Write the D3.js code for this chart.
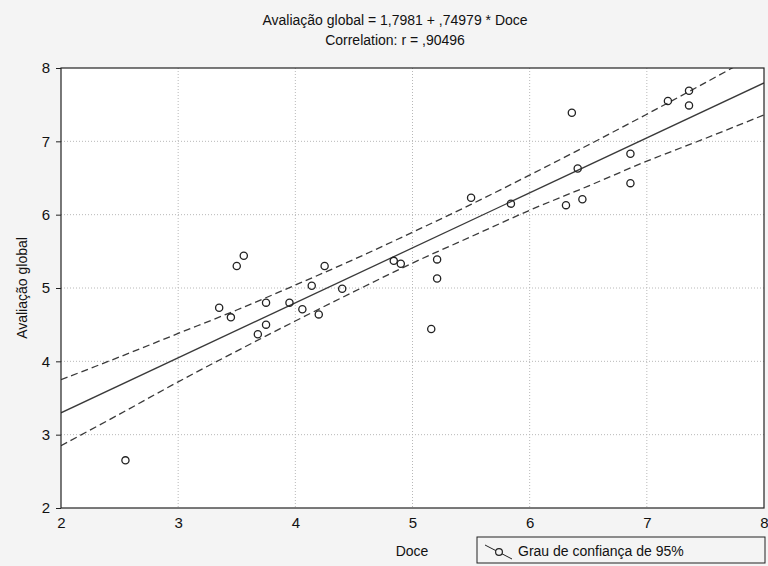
<!DOCTYPE html>
<html>
<head>
<meta charset="utf-8">
<script src="https://cdn.jsdelivr.net/npm/d3@7"></script>
<style>
  html, body { margin: 0; padding: 0; background: #f4f4f4; }
  svg { display: block; font-family: "Liberation Sans", Arial, sans-serif; }
</style>
</head>
<body>
<svg id="chart" width="768" height="566"></svg>
<script>
// Dados (Doce x Avaliação global)
const doce = [2.55, 3.35, 3.45, 3.50, 3.56, 3.75, 3.75, 3.68, 3.95, 4.14, 4.25, 4.06, 4.20, 4.40,
  4.84, 4.90, 5.21, 5.21, 5.16, 5.50, 5.84, 6.36, 6.41, 6.31, 6.45, 6.86, 6.86, 7.18, 7.36, 7.36];
const avaliacao = [2.65, 4.73, 4.60, 5.30, 5.44, 4.80, 4.50, 4.37, 4.80, 5.03, 5.30, 4.71, 4.64, 4.99,
  5.37, 5.33, 5.39, 5.13, 4.44, 6.23, 6.15, 7.39, 6.63, 6.13, 6.21, 6.83, 6.43, 7.55, 7.49, 7.69];

// Reta de regressão (do título)
const regIntercept = 1.7981;
const regSlope = 0.74979;

// Limites de confiança de 95%
const bandX     = [2, 2.5, 3, 3.5, 4, 4.5, 5, 5.5, 6, 6.5, 7, 7.5, 8];
const bandUpper = [3.75, 4.06, 4.38, 4.70, 5.04, 5.39, 5.76, 6.14, 6.54, 6.95, 7.37, 7.80, 8.24];
const bandLower = [2.85, 3.28, 3.72, 4.14, 4.55, 4.95, 5.34, 5.70, 6.06, 6.39, 6.73, 7.04, 7.36];

const xTicks = [2, 3, 4, 5, 6, 7, 8];
const yTicks = [2, 3, 4, 5, 6, 7, 8];

const titulo1 = "Avaliação global = 1,7981 + ,74979 * Doce";
const titulo2 = "Correlation: r = ,90496";
const legenda = "Grau de confiança de 95%";

const svg = d3.select("#chart");
const pLeft = 61, pRight = 764, pTop = 68, pBottom = 508;

const x = d3.scaleLinear().domain([2, 8]).range([pLeft, pRight]);
const y = d3.scaleLinear().domain([2, 8]).range([pBottom, pTop]);

// Área do gráfico
svg.append("rect")
  .attr("x", pLeft).attr("y", pTop)
  .attr("width", pRight - pLeft).attr("height", pBottom - pTop)
  .attr("fill", "#fff");

svg.append("defs").append("clipPath").attr("id", "clip")
  .append("rect")
  .attr("x", pLeft).attr("y", pTop)
  .attr("width", pRight - pLeft).attr("height", pBottom - pTop);

// Grade pontilhada
const grid = svg.append("g").attr("stroke", "#b8b8b8").attr("stroke-dasharray", "1,2");
grid.selectAll("line.v").data(xTicks.slice(1, -1)).enter().append("line")
  .attr("x1", d => x(d)).attr("x2", d => x(d))
  .attr("y1", pTop).attr("y2", pBottom);
grid.selectAll("line.h").data(yTicks.slice(1, -1)).enter().append("line")
  .attr("x1", pLeft).attr("x2", pRight)
  .attr("y1", d => y(d)).attr("y2", d => y(d));

const plot = svg.append("g").attr("clip-path", "url(#clip)");

// Reta de regressão
const regLine = d3.line().x(d => x(d)).y(d => y(regIntercept + regSlope * d));
plot.append("path")
  .attr("d", regLine([2, 8]))
  .attr("fill", "none").attr("stroke", "#3a3a3a").attr("stroke-width", 1.3);

// Bandas de confiança
const bandLine = d3.line().x(d => x(d[0])).y(d => y(d[1])).curve(d3.curveCatmullRom);
[bandUpper, bandLower].forEach(b => {
  plot.append("path")
    .attr("d", bandLine(bandX.map((v, i) => [v, b[i]])))
    .attr("fill", "none").attr("stroke", "#3a3a3a").attr("stroke-width", 1.3)
    .attr("stroke-dasharray", "7,4");
});

// Pontos
plot.selectAll("circle").data(doce).enter().append("circle")
  .attr("cx", d => x(d))
  .attr("cy", (d, i) => y(avaliacao[i]))
  .attr("r", 3.6)
  .attr("fill", "none").attr("stroke", "#222").attr("stroke-width", 1.3);

// Moldura
svg.append("rect")
  .attr("x", pLeft).attr("y", pTop)
  .attr("width", pRight - pLeft).attr("height", pBottom - pTop)
  .attr("fill", "none").attr("stroke", "#222").attr("stroke-width", 1.2);

// Eixos
const xAxis = svg.append("g").attr("transform", `translate(0,${pBottom})`)
  .call(d3.axisBottom(x).tickValues(xTicks).tickSize(0).tickPadding(9).tickFormat(d3.format("d")));
const yAxis = svg.append("g").attr("transform", `translate(${pLeft},0)`)
  .call(d3.axisLeft(y).tickValues(yTicks).tickSize(5).tickPadding(6).tickFormat(d3.format("d")));
[xAxis, yAxis].forEach(a => {
  a.select(".domain").remove();
  a.selectAll("text").style("font-size", "15px").attr("fill", "#111")
    .style("font-family", "'Liberation Sans', Arial, sans-serif");
  a.selectAll("line").attr("stroke", "#222");
});

// Títulos
svg.append("text").attr("x", 395).attr("y", 25).attr("text-anchor", "middle")
  .style("font-size", "14px").attr("fill", "#111").text(titulo1);
svg.append("text").attr("x", 395).attr("y", 45).attr("text-anchor", "middle")
  .style("font-size", "14px").attr("fill", "#111").text(titulo2);

svg.append("text").attr("x", 412).attr("y", 556).attr("text-anchor", "middle")
  .style("font-size", "14px").attr("fill", "#111").text("Doce");
svg.append("text")
  .attr("transform", `translate(27,${(pTop + pBottom) / 2}) rotate(-90)`)
  .attr("text-anchor", "middle")
  .style("font-size", "14px").attr("fill", "#111").text("Avaliação global");

// Legenda
const leg = svg.append("g");
leg.append("rect").attr("x", 477).attr("y", 537).attr("width", 288).attr("height", 26)
  .attr("fill", "none").attr("stroke", "#222").attr("stroke-width", 1);
leg.append("line").attr("x1", 485).attr("y1", 545).attr("x2", 512).attr("y2", 559)
  .attr("stroke", "#222");
leg.append("circle").attr("cx", 499).attr("cy", 552).attr("r", 3.4)
  .attr("fill", "#f4f4f4").attr("stroke", "#222").attr("stroke-width", 1.2);
leg.append("text").attr("x", 518).attr("y", 556)
  .style("font-size", "14px").attr("fill", "#111").text(legenda);
</script>
</body>
</html>
